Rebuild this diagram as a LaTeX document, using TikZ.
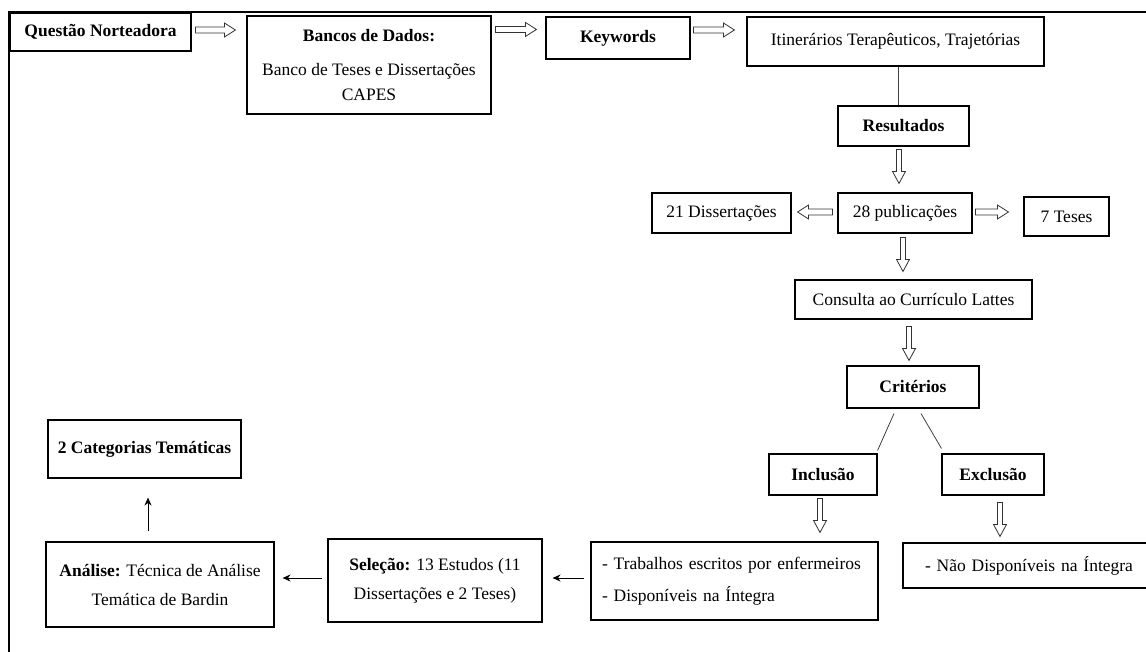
\documentclass[tikz,border=0pt]{standalone}
\usepackage{fontspec}
\setmainfont{Liberation Serif}
\usetikzlibrary{calc,arrows.meta}
\begin{document}
\begin{tikzpicture}[x=1pt,y=-1pt,
  box/.style={draw, line width=1.1pt, inner sep=0pt, align=center, font=\fontsize{17.5}{29}\selectfont},
  hol/.style={draw=black!80, line width=0.8pt, fill=white},
  hright/.style={to path={let \p1=(\tikztostart), \p2=(\tikztotarget) in
    (\x1,\y1+3pt) -- (\x2-11pt,\y1+3pt) -- (\x2-11pt,\y1+7pt) -- (\x2,\y1) -- (\x2-11pt,\y1-7pt) -- (\x2-11pt,\y1-3pt) -- (\x1,\y1-3pt) -- cycle}},
  hleft/.style={to path={let \p1=(\tikztostart), \p2=(\tikztotarget) in
    (\x1,\y1+3pt) -- (\x2+11pt,\y1+3pt) -- (\x2+11pt,\y1+7pt) -- (\x2,\y1) -- (\x2+11pt,\y1-7pt) -- (\x2+11pt,\y1-3pt) -- (\x1,\y1-3pt) -- cycle}},
  hdown/.style={to path={let \p1=(\tikztostart), \p2=(\tikztotarget) in
    (\x1-2.5pt,\y1) -- (\x1-2.5pt,\y2+12pt) -- (\x1-6.5pt,\y2+12pt) -- (\x1,\y2) -- (\x1+6.5pt,\y2+12pt) -- (\x1+2.5pt,\y2+12pt) -- (\x1+2.5pt,\y1) -- cycle}},
  arr/.style={-{Stealth[length=8pt,width=7pt]}, line width=1pt},
  lnk/.style={line width=0.8pt, draw=black!75}
]
\useasboundingbox (0,0) rectangle (1146,652);
% frame
\draw[line width=2pt] (9,652) -- (9,12) -- (1146,12);

% nodes
\node[box, minimum width=181pt, minimum height=38pt] (q) at (100.5,32) {\textbf{Questão Norteadora}};
\node[box, minimum width=244pt, minimum height=98pt, font=\fontsize{17.5}{25}\selectfont] (banc) at (369,65) {\textbf{Bancos de Dados:}\\[9pt]Banco de Teses e Dissertações\\CAPES};
\node[box, minimum width=144pt, minimum height=42pt] (kw) at (618,38) {\textbf{Keywords}};
\node[box, minimum width=297pt, minimum height=49pt] (itin) at (895.5,41.5) {Itinerários Terapêuticos, Trajetórias};
\node[box, minimum width=131pt, minimum height=40pt] (res) at (903.5,126) {\textbf{Resultados}};
\node[box, minimum width=134pt, minimum height=40pt] (pub) at (905,213) {28 publicações};
\node[box, minimum width=139pt, minimum height=40pt] (diss) at (721.5,213) {21 Dissertações};
\node[box, minimum width=85pt, minimum height=39pt] (tes) at (1066.5,216.5) {7 Teses};
\node[box, minimum width=237pt, minimum height=39pt] (cons) at (913.5,299.5) {Consulta ao Currículo Lattes};
\node[box, minimum width=132pt, minimum height=42pt] (crit) at (913,387) {\textbf{Critérios}};
\node[box, minimum width=108pt, minimum height=41pt] (incl) at (823,474.5) {\textbf{Inclusão}};
\node[box, minimum width=102pt, minimum height=41pt] (excl) at (993,474.5) {\textbf{Exclusão}};
\node[box, minimum width=287pt, minimum height=78pt, text width=265pt, align=left, font=\fontsize{17.5}{32}\selectfont] (trab) at (734.5,581) {- Trabalhos escritos por enfermeiros\\- Disponíveis na Íntegra};
\node[box, minimum width=245pt, minimum height=45pt, text width=201pt, align=left] (nao) at (1025.5,565.5) {\mbox{- Não Disponíveis na Íntegra}};
\node[box, minimum width=193pt, minimum height=58pt] (cat) at (144.5,449) {\textbf{2 Categorias Temáticas}};
\node[box, minimum width=228pt, minimum height=85pt] (ana) at (160,584.5) {\textbf{Análise:} Técnica de Análise\\Temática de Bardin};
\node[box, minimum width=214pt, minimum height=83pt] (sel) at (435,580.5) {\textbf{Seleção:} 13 Estudos (11\\Dissertações e 2 Teses)};

% hollow arrows
\draw[hol, hright] ($(q.east)+(4,-2)$) to ($(banc.west)+(-11,0)$);
\draw[hol, hright] ($(banc.north east)+(4,14)$) to ($(kw.west)+(-9,0)$);
\draw[hol, hright] ($(kw.east)+(3,-8)$) to ($(itin.west)+(-12,0)$);
\draw[hol, hdown] ($(res.south)+(-4.5,3)$) to ($(pub.north)+(0,-9)$);
\draw[hol, hleft] ($(pub.west)+(-5,-1)$) to ($(diss.east)+(6,0)$);
\draw[hol, hright] ($(pub.east)+(3,-1)$) to ($(tes.west)+(-15,0)$);
\draw[hol, hdown] ($(pub.south)+(-2,4)$) to ($(cons.north)+(0,-8)$);
\draw[hol, hdown] ($(cons.south)+(-4.5,7)$) to ($(crit.north)+(0,-5)$);
\draw[hol, hdown] ($(incl.south)+(-3,3)$) to ($(trab.north)+(0,-9)$);
\draw[hol, hdown] ($(excl.south)+(7,7)$) to ($(nao.north)+(0,-6)$);

% plain lines
\draw[lnk] ($(itin.south)+(2.5,0)$) -- ($(res.north)+(-5.5,0)$);
\draw[lnk] ($(crit.south)+(-19,5)$) -- ($(incl.north east)+(0,-3)$);
\draw[lnk] ($(crit.south)+(8,5)$) -- ($(excl.north west)+(0,-5)$);

% solid arrows
\draw[arr] ($(trab.west)+(-6,-3)$) -- ($(sel.east)+(10,-2.5)$);
\draw[arr] ($(sel.west)+(-5,-2.5)$) -- ($(ana.east)+(8,-6.5)$);
\draw[arr] ($(ana.north)+(-12,-10)$) -- ($(cat.south)+(3.5,19)$);
\end{tikzpicture}
\end{document}
